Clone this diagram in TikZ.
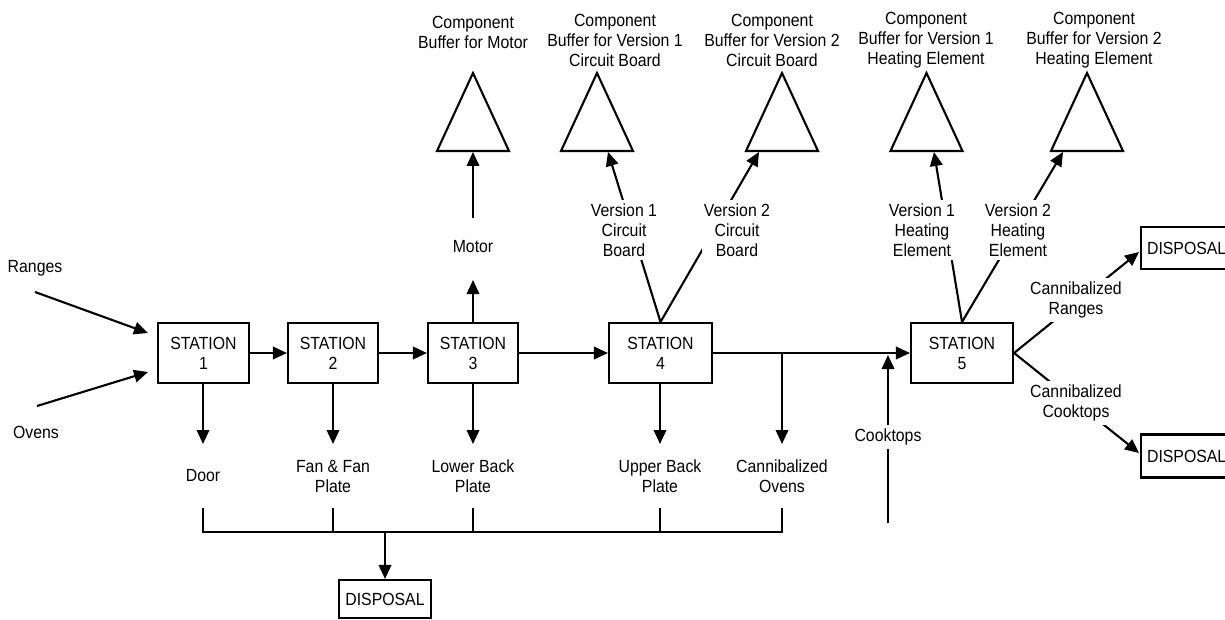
\documentclass[tikz,border=0pt]{standalone}
\usepackage{fontspec}
\setmainfont{Liberation Sans}[FakeStretch=0.9]
\usetikzlibrary{arrows.meta,calc}
\begin{document}
\begin{tikzpicture}[x=1pt,y=-1pt,line width=2.1pt,line join=miter,
  every node/.style={font=\fontsize{17.6}{20}\selectfont},
  arr/.style={-{Triangle[length=14pt,width=12.5pt]}},
  station/.style={draw,align=center,inner sep=0pt,minimum height=60pt},
  dispbox/.style={draw,inner xsep=6pt,inner ysep=0pt},
  lbl/.style={align=center,inner sep=1pt},
  cut/.style={align=center,fill=white,inner xsep=2pt,inner ysep=4pt},
  buffer/.pic={\draw (-36,0) -- (0,-78) -- (36,0) -- cycle;}]
\useasboundingbox (0,0) rectangle (1225,620);

% stations
\node[station,minimum width=91pt]  (s1) at (203.5,353) {STATION\\1};
\node[station,minimum width=90pt]  (s2) at (333,353)   {STATION\\2};
\node[station,minimum width=90pt]  (s3) at (473,353)   {STATION\\3};
\node[station,minimum width=103pt] (s4) at (660.5,353) {STATION\\4};
\node[station,minimum width=102pt] (s5) at (962,353)   {STATION\\5};

% disposal boxes
\node[dispbox,minimum width=90pt,minimum height=38pt] (d0) at (385,599) {DISPOSAL};
\node[dispbox,anchor=west,minimum height=42pt] (d1) at (1140,248) {DISPOSAL};
\node[dispbox,anchor=west,minimum height=43pt] (d2) at (1140,456) {DISPOSAL};

% buffers (triangles)
\pic at (473,151)   {buffer};
\pic at (597,151)   {buffer};
\pic at (782,151)   {buffer};
\pic at (926.5,151) {buffer};
\pic at (1087,151)  {buffer};
\coordinate (bm)  at (473,152);
\coordinate (bc1) at (608,152);
\coordinate (bc2) at (759,152);
\coordinate (bh1) at (934,152);
\coordinate (bh2) at (1063,152);

% inputs
\node[lbl] (ranges) at (35,268) {Ranges};
\node[lbl] (ovens)  at (36,432) {Ovens};
\coordinate (rs) at (35,292);
\coordinate (re) at (148,333);
\coordinate (os) at (37,406);
\coordinate (oe) at (148,372);
\draw[arr] (rs) -- (re);
\draw[arr] (os) -- (oe);

% main line
\draw[arr] (s1.east) -- (s2.west);
\draw[arr] (s2.east) -- (s3.west);
\draw[arr] (s3.east) -- (s4.west);
\draw[arr] (s4.east) -- (s5.west);

% outputs downward
\coordinate (a1) at (203,444);
\coordinate (a2) at (333,444);
\coordinate (a3) at (473,444);
\coordinate (a4) at (660,444);
\coordinate (jo) at (782,353);
\coordinate (a5) at (782,444);
\draw[arr] (s1.south -| a1) -- (a1);
\draw[arr] (s2.south) -- (a2);
\draw[arr] (s3.south) -- (a3);
\draw[arr] (s4.south -| a4) -- (a4);
\draw[arr] (jo) -- (a5);

\node[lbl] (door)  at (203,476) {Door};
\node[lbl] (fan)   at (333,476) {Fan \& Fan\\Plate};
\node[lbl] (lower) at (473,476) {Lower Back\\Plate};
\node[lbl] (upper) at (660,476) {Upper Back\\Plate};
\node[lbl] (covens) at (782,476) {Cannibalized\\Ovens};

% collector bus
\coordinate (t1) at (203,508);
\coordinate (t2) at (333,508);
\coordinate (t3) at (473,508);
\coordinate (t4) at (660,508);
\coordinate (t5) at (782,508);
\coordinate (bus) at (385,532);
\draw (t1) |- ($(t5)+(0,24)$) -- (t5);
\draw (t2) -- ++(0,24);
\draw (t3) -- ++(0,24);
\draw (t4) -- ++(0,24);
\draw[arr] (bus) -- (d0.north);

% motor
\coordinate (mu) at (473,280);
\coordinate (ms) at (473,218);
\draw[arr] (s3.north) -- (mu);
\node[lbl] (motor) at (473,247) {Motor};
\draw[arr] (ms) -- (bm);

% station 4 -> circuit board buffers
\draw[arr] (s4.north) -- (bc1);
\draw[arr] (s4.north) -- (bc2);
\node[cut] (vc1) at (624,230) {Version 1\\Circuit\\Board};
\node[cut] (vc2) at (737,230) {Version 2\\Circuit\\Board};

% station 5 -> heating element buffers
\draw[arr] (s5.north) -- (bh1);
\draw[arr] (s5.north) -- (bh2);
\node[cut] (vh1) at (922,230) {Version 1\\Heating\\Element};
\node[cut] (vh2) at (1018,230) {Version 2\\Heating\\Element};

% cooktops input
\coordinate (cs) at (888,523);
\coordinate (ce) at (888,355);
\draw[arr] (cs) -- (ce);
\node[cut] (cook) at (888,437) {Cooktops};

% station 5 outputs
\draw[arr] (s5.east) -- ($(d1.west)+(-1,4)$);
\draw[arr] (s5.east) -- ($(d2.west)+(-1,-3)$);
\node[cut] (cr) at (1076,300) {Cannibalized\\Ranges};
\node[cut] (cc) at (1076,403) {Cannibalized\\Cooktops};

% buffer titles
\node[lbl] (tm)  at (473,32)  {Component\\Buffer for Motor};
\node[lbl] (tc1) at (615,40)  {Component\\Buffer for Version 1\\Circuit Board};
\node[lbl] (tc2) at (772,40)  {Component\\Buffer for Version 2\\Circuit Board};
\node[lbl] (th1) at (926,40)  {Component\\Buffer for Version 1\\Heating Element};
\node[lbl] (th2) at (1094,40) {Component\\Buffer for Version 2\\Heating Element};
\end{tikzpicture}
\end{document}
